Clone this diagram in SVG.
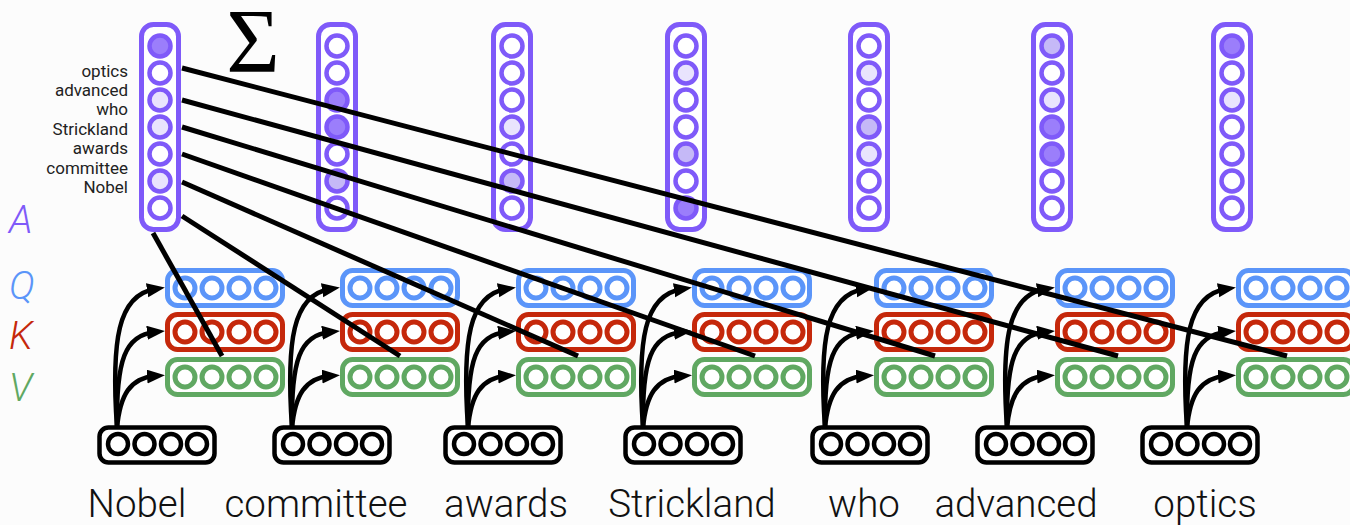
<svg xmlns="http://www.w3.org/2000/svg" width="1350" height="525" viewBox="0 0 1350 525">
  <defs>
    <style>
      .bg { fill: #fcfcfc; }
      .acol { fill: #ffffff; stroke: #7f5af9; stroke-width: 5; }
      .ac { stroke: #7f5af9; stroke-width: 4.5; }
      .w { fill: #ffffff; }
      .l { fill: #e9e4fd; }
      .m { fill: #c5b9f7; }
      .d { fill: #9b7efb; }
      .q { stroke: #5b95f9; }
      .k { stroke: #c5280b; }
      .v { stroke: #60a862; }
      .conn line { stroke: #000000; stroke-width: 5; }
      .arr path { fill: none; stroke: #000000; stroke-width: 4.5; marker-end: url(#head); }
      .word { font-family: Roboto, "Liberation Sans", sans-serif; font-weight: 300; font-size: 38.5px; fill: #111111; text-anchor: middle; }
      .small { font-family: Roboto, "Liberation Sans", sans-serif; font-size: 17px; fill: #222222; text-anchor: end; }
      .axis { font-family: Roboto, "Liberation Sans", sans-serif; font-style: italic; font-weight: 300; font-size: 39px; }
      .sigma { font-family: "Liberation Serif", "DejaVu Serif", serif; font-size: 92px; fill: #000000; text-anchor: middle; }
    </style>
    <marker id="head" markerUnits="userSpaceOnUse" markerWidth="20" markerHeight="16" refX="8" refY="7" orient="auto">
      <path d="M0,0 L18,7 L0,14 z" fill="#000000"/>
    </marker>
    <!-- rounded frame of one attention column -->
    <g id="aframe">
      <rect class="acol" x="-18.5" y="24.5" width="37" height="205" rx="12"/>
    </g>
    <!-- a four-cell vector block, 120 x 40; stroke colour comes from the <use> -->
    <g id="cells" fill="#ffffff" stroke-width="5">
      <rect x="2.5" y="2.5" width="115" height="35" rx="10"/>
      <circle cx="20" cy="20" r="10"/>
      <circle cx="47" cy="20" r="10"/>
      <circle cx="74" cy="20" r="10"/>
      <circle cx="101" cy="20" r="10"/>
    </g>
    <!-- token embedding block -->
    <g id="tokcells" fill="#ffffff" stroke="#000000" stroke-width="4.5">
      <rect x="2.5" y="2.5" width="115" height="35" rx="9"/>
      <circle cx="21" cy="19" r="10"/>
      <circle cx="47.5" cy="19" r="10"/>
      <circle cx="74" cy="19" r="10"/>
      <circle cx="100" cy="19" r="10"/>
    </g>
  </defs>

  <rect class="bg" x="0" y="0" width="1350" height="525"/>

  <!-- row labels -->
  <text class="axis" x="9" y="233" fill="#7f5af9">A</text>
  <text class="axis" x="9" y="299" fill="#5b95f9">Q</text>
  <text class="axis" x="9" y="349" fill="#c5280b">K</text>
  <text class="axis" x="9" y="401" fill="#60a862">V</text>

  <!-- summation symbol -->
  <text class="sigma" x="253" y="72">Σ</text>

  <!-- key labels beside the first attention column -->
  <g id="keys">
    <text class="small" x="128" y="77">optics</text>
    <text class="small" x="128" y="96">advanced</text>
    <text class="small" x="128" y="115">who</text>
    <text class="small" x="128" y="135">Strickland</text>
    <text class="small" x="128" y="154">awards</text>
    <text class="small" x="128" y="174">committee</text>
    <text class="small" x="128" y="193">Nobel</text>
  </g>

  <!-- attention columns -->
  <g id="attn-nobel" transform="translate(160,0)">
    <use href="#aframe"/>
    <circle class="ac d" cx="0" cy="46" r="10.5"/>
    <circle class="ac w" cx="0" cy="73" r="10.5"/>
    <circle class="ac l" cx="0" cy="100" r="10.5"/>
    <circle class="ac l" cx="0" cy="127" r="10.5"/>
    <circle class="ac w" cx="0" cy="154" r="10.5"/>
    <circle class="ac l" cx="0" cy="181" r="10.5"/>
    <circle class="ac w" cx="0" cy="208" r="10.5"/>
  </g>
  <g id="attn-committee" transform="translate(337,0)">
    <use href="#aframe"/>
    <circle class="ac w" cx="0" cy="46" r="10.5"/>
    <circle class="ac w" cx="0" cy="73" r="10.5"/>
    <circle class="ac d" cx="0" cy="100" r="10.5"/>
    <circle class="ac d" cx="0" cy="127" r="10.5"/>
    <circle class="ac w" cx="0" cy="154" r="10.5"/>
    <circle class="ac m" cx="0" cy="181" r="10.5"/>
    <circle class="ac w" cx="0" cy="208" r="10.5"/>
  </g>
  <g id="attn-awards" transform="translate(512,0)">
    <use href="#aframe"/>
    <circle class="ac w" cx="0" cy="46" r="10.5"/>
    <circle class="ac w" cx="0" cy="73" r="10.5"/>
    <circle class="ac w" cx="0" cy="100" r="10.5"/>
    <circle class="ac l" cx="0" cy="127" r="10.5"/>
    <circle class="ac w" cx="0" cy="154" r="10.5"/>
    <circle class="ac m" cx="0" cy="181" r="10.5"/>
    <circle class="ac w" cx="0" cy="208" r="10.5"/>
  </g>
  <g id="attn-strickland" transform="translate(686,0)">
    <use href="#aframe"/>
    <circle class="ac w" cx="0" cy="46" r="10.5"/>
    <circle class="ac l" cx="0" cy="73" r="10.5"/>
    <circle class="ac w" cx="0" cy="100" r="10.5"/>
    <circle class="ac w" cx="0" cy="127" r="10.5"/>
    <circle class="ac m" cx="0" cy="154" r="10.5"/>
    <circle class="ac w" cx="0" cy="181" r="10.5"/>
    <circle class="ac d" cx="0" cy="208" r="10.5"/>
  </g>
  <g id="attn-who" transform="translate(869,0)">
    <use href="#aframe"/>
    <circle class="ac w" cx="0" cy="46" r="10.5"/>
    <circle class="ac l" cx="0" cy="73" r="10.5"/>
    <circle class="ac w" cx="0" cy="100" r="10.5"/>
    <circle class="ac m" cx="0" cy="127" r="10.5"/>
    <circle class="ac l" cx="0" cy="154" r="10.5"/>
    <circle class="ac w" cx="0" cy="181" r="10.5"/>
    <circle class="ac w" cx="0" cy="208" r="10.5"/>
  </g>
  <g id="attn-advanced" transform="translate(1052,0)">
    <use href="#aframe"/>
    <circle class="ac m" cx="0" cy="46" r="10.5"/>
    <circle class="ac w" cx="0" cy="73" r="10.5"/>
    <circle class="ac l" cx="0" cy="100" r="10.5"/>
    <circle class="ac d" cx="0" cy="127" r="10.5"/>
    <circle class="ac d" cx="0" cy="154" r="10.5"/>
    <circle class="ac w" cx="0" cy="181" r="10.5"/>
    <circle class="ac w" cx="0" cy="208" r="10.5"/>
  </g>
  <g id="attn-optics" transform="translate(1232,0)">
    <use href="#aframe"/>
    <circle class="ac d" cx="0" cy="46" r="10.5"/>
    <circle class="ac w" cx="0" cy="73" r="10.5"/>
    <circle class="ac l" cx="0" cy="100" r="10.5"/>
    <circle class="ac w" cx="0" cy="127" r="10.5"/>
    <circle class="ac w" cx="0" cy="154" r="10.5"/>
    <circle class="ac w" cx="0" cy="181" r="10.5"/>
    <circle class="ac w" cx="0" cy="208" r="10.5"/>
  </g>

  <!-- query / key / value blocks per token -->
  <g id="qkv-nobel">
    <use class="q" href="#cells" x="165" y="268"/>
    <use class="k" href="#cells" x="165" y="312"/>
    <use class="v" href="#cells" x="165" y="357"/>
  </g>
  <g id="qkv-committee">
    <use class="q" href="#cells" x="340" y="268"/>
    <use class="k" href="#cells" x="340" y="312"/>
    <use class="v" href="#cells" x="340" y="357"/>
  </g>
  <g id="qkv-awards">
    <use class="q" href="#cells" x="516" y="268"/>
    <use class="k" href="#cells" x="516" y="312"/>
    <use class="v" href="#cells" x="516" y="357"/>
  </g>
  <g id="qkv-strickland">
    <use class="q" href="#cells" x="692" y="268"/>
    <use class="k" href="#cells" x="692" y="312"/>
    <use class="v" href="#cells" x="692" y="357"/>
  </g>
  <g id="qkv-who">
    <use class="q" href="#cells" x="874" y="268"/>
    <use class="k" href="#cells" x="874" y="312"/>
    <use class="v" href="#cells" x="874" y="357"/>
  </g>
  <g id="qkv-advanced">
    <use class="q" href="#cells" x="1055" y="268"/>
    <use class="k" href="#cells" x="1055" y="312"/>
    <use class="v" href="#cells" x="1055" y="357"/>
  </g>
  <g id="qkv-optics">
    <use class="q" href="#cells" x="1236" y="268"/>
    <use class="k" href="#cells" x="1236" y="312"/>
    <use class="v" href="#cells" x="1236" y="357"/>
  </g>

  <!-- token embeddings -->
  <g id="tok-nobel"><use href="#tokcells" x="97" y="425"/></g>
  <g id="tok-committee"><use href="#tokcells" x="272" y="425"/></g>
  <g id="tok-awards"><use href="#tokcells" x="443" y="425"/></g>
  <g id="tok-strickland"><use href="#tokcells" x="623" y="425"/></g>
  <g id="tok-who"><use href="#tokcells" x="810" y="425"/></g>
  <g id="tok-advanced"><use href="#tokcells" x="975" y="425"/></g>
  <g id="tok-optics"><use href="#tokcells" x="1140" y="425"/></g>

  <!-- token words -->
  <text class="word" x="137" y="517">Nobel</text>
  <text class="word" x="316" y="517">committee</text>
  <text class="word" x="506" y="517">awards</text>
  <text class="word" x="692" y="517">Strickland</text>
  <text class="word" x="864" y="517">who</text>
  <text class="word" x="1016" y="517">advanced</text>
  <text class="word" x="1205" y="517">optics</text>

  <!-- projections: token embedding to Q, K, V -->
  <g id="projections" class="arr">
    <path d="M117,428 C111,340 118,295 155,289"/>
    <path d="M117,428 C116,360 125,335 155,332"/>
    <path d="M117,428 C120,395 130,378 155,376"/>
    <path d="M292,428 C286,340 293,295 330,289"/>
    <path d="M292,428 C291,360 300,335 330,332"/>
    <path d="M292,428 C295,395 305,378 330,376"/>
    <path d="M468,428 C462,340 469,295 506,289"/>
    <path d="M468,428 C467,360 476,335 506,332"/>
    <path d="M468,428 C471,395 481,378 506,376"/>
    <path d="M643,428 C637,340 644,295 682,289"/>
    <path d="M643,428 C642,360 651,335 682,332"/>
    <path d="M643,428 C646,395 656,378 682,376"/>
    <path d="M825,428 C819,340 826,295 864,289"/>
    <path d="M825,428 C824,360 833,335 864,332"/>
    <path d="M825,428 C828,395 838,378 864,376"/>
    <path d="M1007,428 C1001,340 1008,295 1045,289"/>
    <path d="M1007,428 C1006,360 1015,335 1045,332"/>
    <path d="M1007,428 C1010,395 1020,378 1045,376"/>
    <path d="M1187,428 C1181,340 1188,295 1226,289"/>
    <path d="M1187,428 C1186,360 1195,335 1226,332"/>
    <path d="M1187,428 C1190,395 1200,378 1226,376"/>
  </g>

  <!-- attention weights of the first column routed to each value block -->
  <g id="weights" class="conn">
    <line x1="182" y1="68" x2="1287" y2="356"/>
    <line x1="182" y1="100" x2="1118" y2="356"/>
    <line x1="182" y1="127" x2="935" y2="356"/>
    <line x1="182" y1="154" x2="755" y2="356"/>
    <line x1="182" y1="182" x2="578" y2="356"/>
    <line x1="182" y1="216" x2="400" y2="356"/>
    <line x1="153" y1="233" x2="222" y2="356"/>
  </g>
</svg>
